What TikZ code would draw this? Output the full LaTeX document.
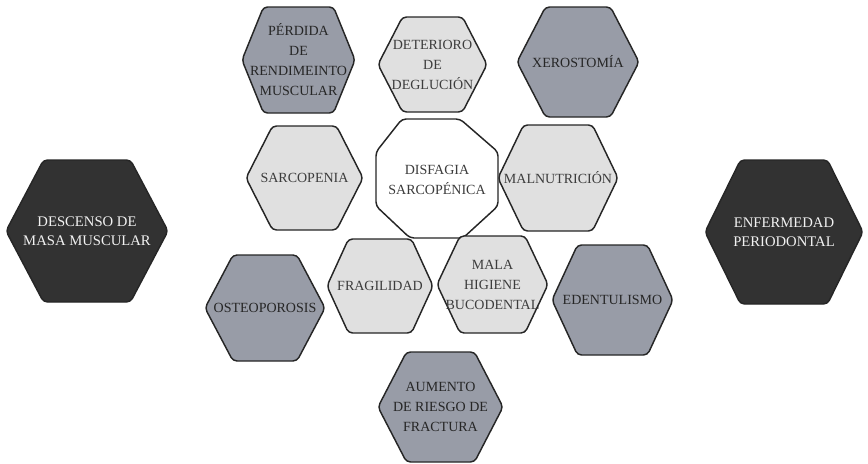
\documentclass[tikz,border=0pt]{standalone}
\usepackage{fontspec}
\setmainfont{Liberation Serif}
\definecolor{darkfill}{HTML}{323232}
\definecolor{grayfill}{HTML}{989CA7}
\definecolor{lightfill}{HTML}{E0E0E0}
\definecolor{lighttext}{HTML}{3C3C3C}
\definecolor{graytext}{HTML}{262626}
\definecolor{darktext}{HTML}{F2F2F2}
% hexagon: name, cx, cy, half width, half height, half top edge, fill style, label
\newcommand\hexbox[8]{%
  \draw[hexline,#7] ({#2-#4},#3) -- ({#2-#6},{#3-#5}) -- ({#2+#6},{#3-#5})
    -- ({#2+#4},#3) -- ({#2+#6},{#3+#5}) -- ({#2-#6},{#3+#5}) -- cycle;
  \node[#7 label] (#1) at (#2,#3) {#8};}
\begin{document}
\begin{tikzpicture}[x=0.75pt,y=-0.75pt,
  hexline/.style={draw=black!85,line width=1.1pt,rounded corners=3pt,line join=round},
  lbl/.style={align=center,inner sep=0pt,font=\fontsize{10.5}{15}\selectfont},
  dark/.style={fill=darkfill},
  dark label/.style={lbl,text=darktext,font=\fontsize{11}{14.5}\selectfont},
  gray/.style={fill=grayfill},
  gray label/.style={lbl,text=graytext},
  light/.style={fill=lightfill},
  light label/.style={lbl,text=lighttext},
  white/.style={fill=white},
  white label/.style={lbl,text=lighttext}]
\useasboundingbox (0,0) rectangle (868,464);

% outer causes
\hexbox{descenso}{87}{231}{81}{71}{43.5}{dark}{DESCENSO DE\\MASA MUSCULAR}
\hexbox{enfermedad}{784}{232}{79}{72}{43.5}{dark}{ENFERMEDAD\\PERIODONTAL}

% top row
\hexbox{perdida}{298.5}{60}{56.5}{53}{35}{gray}{PÉRDIDA\\DE\\RENDIMEINTO\\MUSCULAR}
\hexbox{deterioro}{432.5}{64.5}{54.5}{47.5}{30}{light}{DETERIORO\\DE\\DEGLUCIÓN}
\hexbox{xerostomia}{578}{62}{61}{55}{32.5}{gray}{XEROSTOMÍA}

% middle row
\hexbox{sarcopenia}{304.5}{178}{58.5}{52}{32}{light}{SARCOPENIA}
\hexbox{malnutricion}{558}{178}{60}{53}{34.5}{light}{MALNUTRICIÓN}

% lower rows
\hexbox{osteoporosis}{265}{308}{60}{53}{32}{gray}{OSTEOPOROSIS}
\hexbox{edentulismo}{612.5}{300}{60.5}{55}{35}{gray}{EDENTULISMO}
\hexbox{fragilidad}{380}{286}{53}{47}{31.5}{light}{FRAGILIDAD}
\hexbox{aumento}{440.5}{407}{62.5}{55}{34}{gray}{AUMENTO\\DE RIESGO DE\\FRACTURA}

% central octagon
\draw[hexline,white] (376,152) -- (402,119) -- (460,119) -- (498,152)
  -- (498,206) -- (463,238) -- (410,238) -- (376,206) -- cycle;
\node[white label] (disfagia) at (437,180) {DISFAGIA\\SARCOPÉNICA};

\hexbox{mala}{492.5}{284.5}{55.5}{48.5}{32.5}{light}{MALA\\HIGIENE\\BUCODENTAL}
\end{tikzpicture}
\end{document}
